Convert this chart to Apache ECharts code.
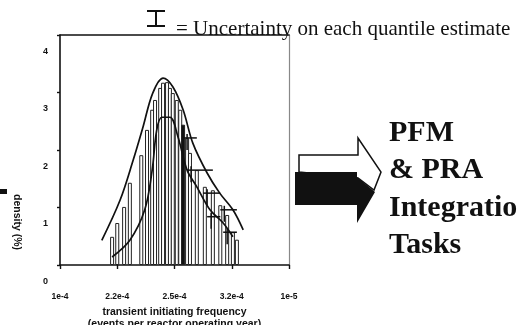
<!DOCTYPE html>
<html>
<head>
<meta charset="utf-8">
<script src="https://cdn.jsdelivr.net/npm/echarts@6/dist/echarts.min.js"></script>
<style>html,body{margin:0;padding:0;background:#fff}#c{width:517px;height:325px}</style>
</head>
<body>
<div id="c"></div>
<script>
// tick labels (x axis positions 0..4)
var xTickLabels = ['1e-4', '2.2e-4', '2.5e-4', '3.2e-4', '1e-5'];
var yTickLabels = ['0', '1', '2', '3', '4'];

// histogram bars (x in axis units, density %)
var barX = [0.91, 1.00, 1.12, 1.22, 1.42, 1.52, 1.61, 1.66, 1.75, 1.80, 1.87, 1.92, 1.97, 2.04, 2.10, 2.15, 2.22, 2.27, 2.39, 2.53, 2.67, 2.80, 2.92, 3.02, 3.09];
var barY = [0.49, 0.73, 1.01, 1.43, 1.91, 2.35, 2.70, 2.87, 3.08, 3.17, 3.18, 3.08, 2.99, 2.87, 2.70, 2.44, 2.21, 1.95, 1.65, 1.36, 1.30, 1.04, 0.87, 0.57, 0.44];

// outer fitted curve
var outerX = [0.73, 1.05, 1.28, 1.45, 1.62, 1.80, 1.97, 2.15, 2.32, 2.57, 2.79, 3.02, 3.20];
var outerY = [0.43, 1.13, 1.83, 2.40, 2.99, 3.25, 3.10, 2.70, 2.12, 1.60, 1.25, 0.96, 0.61];

// inner fitted curve
var innerX = [0.91, 1.22, 1.48, 1.61, 1.69, 1.78, 1.92, 2.06, 2.22, 2.39, 2.62, 2.85, 3.02];
var innerY = [0.14, 0.43, 0.96, 1.65, 2.35, 2.57, 2.57, 2.23, 1.65, 1.36, 0.96, 0.73, 0.49];

// uncertainty on quantile estimates (horizontal intervals)
var errLow  = [2.15, 2.22, 2.50, 2.57, 2.80, 2.85];
var errHigh = [2.39, 2.67, 2.80, 2.80, 3.09, 3.09];
var errY    = [2.21, 1.65, 1.25, 0.84, 0.96, 0.57];

function zip(a, b) { return a.map(function (v, i) { return [v, b[i]]; }); }

var darkBar = 15;
var barData = zip(barX, barY).map(function (p, i) {
  return i === darkBar ? { value: p, itemStyle: { color: '#111' } } : p;
});

var chart = echarts.init(document.getElementById('c'), null, { renderer: 'canvas' });
var lbl = { fontFamily: 'Liberation Sans, Arial, sans-serif', fontWeight: 'bold', color: '#111' };

chart.setOption({
  animation: false,
  backgroundColor: '#fff',
  grid: { left: 60, right: 228, top: 35, bottom: 60, show: false, containLabel: false, outerBoundsMode: 'none' },
  xAxis: [{
    type: 'value', min: 0, max: 4, interval: 1, position: 'bottom',
    axisLine: { show: true, onZero: false, lineStyle: { color: '#111', width: 1.6 } },
    axisTick: { show: true, length: 4, lineStyle: { color: '#111', width: 1.4 } },
    splitLine: { show: false },
    axisLabel: Object.assign({ fontSize: 8.5, margin: 27, formatter: function (v) { return xTickLabels[Math.round(v)]; } }, lbl),
    name: 'transient initiating frequency\n(events per reactor operating year)',
    nameLocation: 'middle', nameGap: 41,
    nameTextStyle: Object.assign({ fontSize: 10.5, lineHeight: 12 }, lbl)
  }, {
    type: 'value', min: 0, max: 4, position: 'top',
    axisLine: { show: true, onZero: false, lineStyle: { color: '#111', width: 1.6 } },
    axisTick: { show: false }, axisLabel: { show: false }, splitLine: { show: false }
  }],
  yAxis: [{
    type: 'value', min: 0, max: 4, interval: 1,
    axisLine: { show: true, onZero: false, lineStyle: { color: '#111', width: 1.6 } },
    axisTick: { show: true, length: 3, lineStyle: { color: '#111', width: 1.4 } },
    splitLine: { show: false },
    axisLabel: Object.assign({ fontSize: 9, margin: 12, verticalAlign: 'top', padding: [12, 0, 0, 0],
      formatter: function (v) { return yTickLabels[Math.round(v)]; } }, lbl)
  }, {
    type: 'value', min: 0, max: 4, position: 'right',
    axisLine: { show: true, onZero: false, lineStyle: { color: '#888', width: 1.2 } },
    axisTick: { show: false }, axisLabel: { show: false }, splitLine: { show: false }
  }],
  series: [{
    type: 'bar', data: barData, barWidth: 4, barGap: '-100%',
    itemStyle: { color: '#fff', borderColor: '#222', borderWidth: 1 },
    z: 2
  }, {
    type: 'line', data: zip(outerX, outerY), smooth: 0.35, symbol: 'none',
    lineStyle: { color: '#111', width: 1.7 }, z: 4
  }, {
    type: 'line', data: zip(innerX, innerY), smooth: 0.35, symbol: 'none',
    lineStyle: { color: '#111', width: 1.7 }, z: 4
  }, {
    type: 'custom', z: 5,
    data: errLow.map(function (v, i) { return [v, errHigh[i], errY[i]]; }),
    renderItem: function (params, api) {
      var a = api.coord([api.value(0), api.value(2)]);
      var b = api.coord([api.value(1), api.value(2)]);
      var s = { stroke: '#111', lineWidth: 1.5 };
      return { type: 'group', children: [
        { type: 'line', shape: { x1: a[0], y1: a[1], x2: b[0], y2: b[1] }, style: s },
        { type: 'line', shape: { x1: a[0] + 4, y1: a[1] - 4, x2: a[0] + 4, y2: a[1] + 12 }, style: s }
      ] };
    }
  }],
  graphic: [
    // legend symbol
    { type: 'line', shape: { x1: 147, y1: 11, x2: 165, y2: 11 }, style: { stroke: '#111', lineWidth: 2 } },
    { type: 'line', shape: { x1: 156, y1: 11, x2: 156, y2: 26 }, style: { stroke: '#111', lineWidth: 2 } },
    { type: 'line', shape: { x1: 147, y1: 26, x2: 165, y2: 26 }, style: { stroke: '#111', lineWidth: 2 } },
    { type: 'text', left: 176, top: 19, style: { text: '= Uncertainty on each quantile estimate',
      font: '21px "Liberation Serif", "Times New Roman", serif', fill: '#111' } },
    // y axis name
    { type: 'text', x: 17, y: 222, rotation: -Math.PI / 2,
      style: { text: 'density (%)', font: 'bold 10.5px "Liberation Sans", Arial, sans-serif', fill: '#111',
        align: 'center', verticalAlign: 'middle' } },
    // left edge mark
    { type: 'rect', shape: { x: 0, y: 189, width: 7, height: 5 }, style: { fill: '#111' } },
    // arrow
    { type: 'polygon', shape: { points: [[299, 172], [299, 155], [358, 155], [358, 138], [381, 172], [374, 190], [358, 178]] },
      style: { fill: '#fff', stroke: '#111', lineWidth: 1.5 } },
    { type: 'polygon', shape: { points: [[295, 172], [357, 172], [357, 177], [375, 192], [357, 223], [357, 205], [295, 205]] },
      style: { fill: '#111' } },
    // right-hand text
    { type: 'text', left: 389, top: 114, style: { text: 'PFM\n& PRA\nIntegration\nTasks',
      font: 'bold 30px "Liberation Serif", "Times New Roman", serif', lineHeight: 37.5, fill: '#111' } }
  ]
});
</script>
</body>
</html>
